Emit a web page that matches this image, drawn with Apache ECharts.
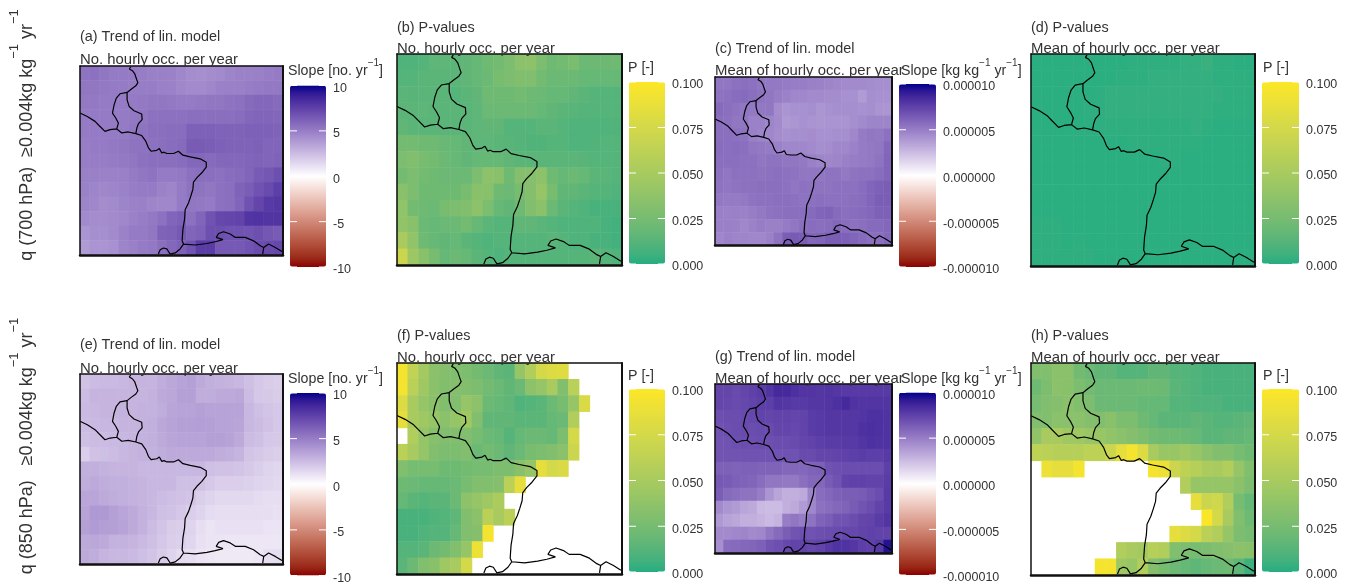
<!DOCTYPE html>
<html><head><meta charset="utf-8">
<style>html,body{margin:0;padding:0;background:#fff}#c{width:1350px;height:586px;filter:blur(0.65px)}</style>
<script src="https://cdn.jsdelivr.net/npm/echarts@6/dist/echarts.min.js"></script>
</head><body><div id="c"></div>
<script>
const n = null;
// (a) slope, no. yr-1, 700 hPa
const occTrend700 = [
[5.4,5.5,5.3,5.1,5.1,5.1,5.0,4.9,4.9,4.8,4.6,4.4,4.3,4.4,4.5,4.7,4.8,4.8,4.9,5.0,5.1],
[5.3,5.3,5.2,5.1,5.1,5.0,5.0,5.0,4.9,4.8,4.6,4.5,4.5,4.6,4.8,4.9,4.9,5.0,5.1,5.2,5.2],
[5.2,5.2,5.1,5.1,5.1,5.1,5.2,5.3,5.3,5.2,5.1,5.1,5.2,5.3,5.3,5.4,5.5,5.8,5.9,5.9,5.8],
[5.1,5.1,5.1,5.1,5.1,5.2,5.3,5.5,5.5,5.5,5.5,5.6,5.6,5.6,5.6,5.6,5.7,5.9,6.0,6.0,5.9],
[5.1,5.1,5.1,5.1,5.1,5.3,5.4,5.6,5.6,5.7,5.7,6.2,6.2,6.2,6.1,6.1,6.1,6.2,6.2,6.2,6.1],
[5.0,5.1,5.1,5.2,5.3,5.4,5.4,5.5,5.6,5.7,5.8,6.4,6.4,6.3,6.2,6.1,6.1,6.1,6.2,6.0,6.0],
[5.0,5.0,5.0,5.1,5.2,5.3,5.5,5.6,5.6,5.6,5.7,5.9,5.9,5.8,5.9,5.9,5.9,6.0,6.1,6.0,6.1],
[4.9,4.9,4.8,4.8,4.9,5.1,5.3,5.4,5.1,5.1,5.2,5.5,5.6,5.6,5.5,5.7,5.8,6.0,6.4,6.6,6.9],
[4.8,4.7,4.6,4.7,4.8,5.0,5.1,5.1,4.8,4.7,5.1,5.4,5.4,5.3,5.5,5.6,6.1,6.3,6.8,7.1,7.6],
[4.7,4.6,4.4,4.5,4.7,4.8,4.9,4.7,4.6,4.6,5.1,5.3,5.2,5.1,5.5,5.6,6.0,6.8,7.3,7.8,7.9],
[4.5,4.4,4.4,4.5,4.6,4.8,5.0,5.2,5.5,6.0,6.2,5.5,6.0,6.8,7.2,7.3,7.4,8.0,8.1,8.0,8.0],
[4.1,4.3,4.3,4.5,4.8,5.1,5.1,5.3,6.1,6.2,6.5,6.0,6.2,6.9,6.9,6.8,6.8,6.7,6.9,6.6,6.4],
[3.8,4.1,4.1,4.2,4.7,4.9,5.1,5.2,5.6,5.9,6.2,6.7,7.7,7.7,6.5,6.5,6.5,6.7,7.0,7.1,7.2]];
// (b) P-values
const occP700 = [
[.010,.010,.012,.015,.015,.014,.016,.018,.022,.024,.028,.035,.036,.028,.022,.024,.027,.020,.020,.021,.022],
[.012,.012,.014,.014,.014,.014,.016,.018,.020,.026,.028,.030,.030,.024,.020,.020,.020,.018,.018,.018,.018],
[.014,.013,.014,.014,.014,.012,.014,.016,.022,.022,.022,.024,.022,.020,.018,.018,.016,.014,.012,.012,.012],
[.014,.014,.015,.014,.014,.014,.014,.015,.020,.020,.020,.020,.020,.018,.016,.014,.013,.012,.012,.012,.012],
[.016,.014,.014,.014,.014,.014,.014,.015,.016,.016,.012,.012,.012,.014,.014,.012,.010,.010,.010,.010,.011],
[.024,.024,.022,.022,.019,.018,.016,.015,.015,.014,.013,.012,.011,.011,.012,.012,.010,.010,.011,.012,.012],
[.028,.030,.026,.024,.020,.018,.016,.018,.018,.018,.016,.014,.014,.014,.014,.014,.014,.013,.012,.012,.012],
[.024,.028,.024,.022,.020,.020,.020,.028,.036,.034,.022,.032,.033,.036,.022,.018,.020,.018,.014,.014,.012],
[.034,.028,.022,.022,.022,.022,.026,.034,.034,.022,.020,.026,.032,.040,.026,.016,.016,.014,.012,.012,.010],
[.038,.024,.022,.020,.026,.028,.030,.036,.028,.018,.016,.022,.030,.035,.020,.014,.012,.010,.008,.008,.008],
[.038,.034,.020,.018,.020,.020,.024,.018,.014,.012,.012,.016,.016,.014,.012,.010,.010,.010,.010,.008,.006],
[.050,.038,.022,.018,.016,.018,.014,.012,.010,.012,.012,.012,.012,.012,.014,.012,.010,.010,.008,.008,.006],
[.070,.044,.034,.026,.018,.020,.018,.014,.012,.010,.012,.012,.012,.012,.012,.012,.012,.012,.014,.012,.010]];
// (c) slope, 1e-6 kg kg-1 yr-1, 700 hPa
const meanTrend700 = [
[5.3,5.3,5.5,5.6,5.5,5.3,5.2,5.2,5.1,5.0,5.0,4.9,4.8,4.7,4.6,4.5,4.5,4.5,4.4,4.3,4.3],
[5.4,5.5,5.7,5.8,5.6,5.4,5.3,5.0,4.8,4.6,4.6,4.5,4.5,4.4,4.4,4.2,4.2,3.8,4.3,4.2,4.2],
[5.8,5.6,5.4,5.3,5.2,5.2,5.3,4.4,4.1,4.2,4.2,4.3,4.0,4.2,4.3,4.3,4.3,4.2,4.3,4.1,4.0],
[5.6,5.5,5.3,5.3,4.8,4.8,4.7,4.5,3.9,4.0,4.2,4.1,4.0,4.1,4.1,4.1,4.3,4.5,4.7,4.7,4.7],
[5.6,5.6,5.5,5.4,4.9,4.7,4.6,4.4,4.2,4.3,4.3,4.4,4.2,4.2,4.3,4.3,4.6,5.1,5.3,5.2,5.5],
[5.7,5.6,5.7,5.6,5.3,5.2,5.1,4.8,4.6,4.6,4.6,4.5,4.3,4.4,4.6,4.6,4.8,5.1,5.2,5.3,5.9],
[5.6,5.6,5.6,5.5,5.5,5.3,5.4,5.4,5.3,5.3,5.2,4.9,4.7,4.6,4.7,4.9,5.0,5.1,5.2,5.4,6.0],
[5.5,5.3,5.5,5.5,5.5,5.4,5.5,5.6,5.5,5.4,5.3,5.3,5.3,5.4,5.4,5.2,5.4,5.5,5.5,5.7,6.0],
[5.4,5.3,5.4,5.5,5.5,5.6,5.6,5.6,5.5,5.3,5.5,5.4,5.4,5.4,5.5,5.5,5.5,5.7,6.0,6.2,6.3],
[5.2,5.1,5.1,5.2,5.4,5.5,5.5,5.6,5.6,5.5,5.4,5.5,5.6,5.5,5.5,5.5,5.6,5.7,6.0,6.3,6.3],
[4.9,4.8,4.9,4.8,5.0,5.2,5.4,5.5,5.6,5.6,5.6,5.8,6.0,6.1,5.8,5.6,5.7,5.8,5.9,6.2,6.2],
[4.9,4.9,4.8,4.6,4.8,5.0,4.9,4.9,5.1,5.3,5.6,5.7,5.6,5.7,5.9,5.7,5.5,5.6,5.8,5.8,5.9],
[4.6,4.8,4.7,4.7,4.6,4.6,4.8,5.4,6.3,6.4,6.3,5.9,6.0,6.3,6.3,6.2,6.0,5.8,5.6,5.6,5.9]];
// (d) P-values
const meanP700 = [
[.001,.001,.001,.001,.001,.001,.001,.001,.001,.002,.002,.002,.002,.002,.003,.003,.004,.002,.002,.001,.001],
[.001,.001,.001,.001,.001,.001,.001,.001,.002,.002,.002,.003,.003,.003,.003,.003,.003,.002,.002,.002,.002],
[.001,.001,.001,.001,.001,.001,.002,.003,.003,.003,.003,.003,.003,.003,.003,.003,.003,.003,.002,.002,.002],
[.001,.001,.001,.001,.001,.002,.002,.003,.003,.003,.003,.003,.003,.003,.003,.003,.003,.002,.002,.002,.002],
[.001,.001,.001,.001,.001,.001,.002,.002,.002,.002,.002,.002,.002,.002,.002,.003,.002,.001,.001,.001,.001],
[.001,.001,.001,.001,.001,.001,.001,.001,.001,.002,.002,.002,.002,.002,.002,.002,.001,.001,.001,.001,.001],
[.001,.001,.001,.001,.001,.001,.001,.001,.001,.001,.001,.001,.002,.002,.001,.001,.001,.001,.001,.001,.001],
[.001,.001,.001,.001,.001,.001,.001,.001,.001,.001,.001,.001,.001,.001,.001,.001,.001,.001,.001,.001,.001],
[.001,.001,.001,.001,.001,.001,.001,.001,.001,.001,.001,.001,.001,.001,.001,.001,.001,.001,.001,.001,.001],
[.001,.001,.001,.001,.001,.001,.001,.001,.001,.001,.001,.001,.001,.001,.001,.001,.001,.001,.001,.001,.001],
[.002,.002,.002,.001,.001,.001,.001,.001,.001,.001,.001,.001,.001,.001,.001,.001,.001,.001,.001,.001,.001],
[.002,.002,.002,.001,.002,.001,.001,.001,.001,.001,.001,.001,.001,.001,.001,.001,.001,.001,.001,.001,.001],
[.002,.002,.002,.002,.002,.002,.001,.001,.001,.001,.001,.001,.001,.001,.001,.001,.001,.001,.001,.001,.001]];
// (e) slope, no. yr-1, 850 hPa
const occTrend850 = [
[2.3,2.5,2.6,2.6,2.7,2.8,2.8,2.8,3.1,3.3,3.5,3.6,3.2,3.0,2.9,2.8,2.7,2.4,2.1,1.9,1.8],
[2.5,2.8,2.8,2.8,2.8,2.8,2.8,2.9,3.2,3.3,3.6,3.6,3.1,3.1,3.2,3.2,3.3,2.5,2.1,2.0,1.9],
[2.6,2.7,2.8,2.8,2.9,2.8,2.9,2.9,3.1,3.4,3.5,3.5,3.6,3.5,3.5,3.5,3.5,2.7,2.4,2.2,2.1],
[2.5,2.6,2.7,2.7,2.8,2.8,2.9,3.0,3.3,3.5,3.6,3.6,3.7,3.6,3.5,3.5,3.4,2.7,2.5,2.3,2.1],
[2.4,2.5,2.5,2.6,2.7,2.8,2.9,3.0,3.2,3.4,3.5,3.5,3.5,3.6,3.6,3.5,3.2,2.5,2.4,2.1,2.0],
[1.8,2.3,2.4,2.5,2.7,2.8,2.9,2.9,3.1,3.2,3.2,3.2,3.2,3.2,3.1,3.0,2.8,2.2,2.1,1.9,1.8],
[3.0,3.0,2.9,2.8,2.8,2.8,2.7,2.7,2.7,2.7,2.7,2.7,2.7,2.4,2.3,2.3,2.2,2.0,1.8,1.6,1.5],
[3.1,3.2,3.1,3.0,3.0,2.9,2.8,2.7,2.7,2.7,2.4,2.4,2.3,2.0,1.8,1.8,1.8,1.7,1.6,1.5,1.4],
[3.4,3.4,3.2,3.1,3.0,2.9,2.8,2.7,2.5,2.4,2.3,2.2,1.8,1.6,1.4,1.4,1.4,1.4,1.3,1.2,1.2],
[3.5,3.9,3.9,3.6,3.4,3.2,2.9,2.7,2.4,2.3,2.1,1.8,1.6,1.3,1.2,1.2,1.2,1.2,1.2,1.2,1.1],
[3.6,3.8,3.7,3.6,3.5,3.2,2.9,2.5,2.2,1.9,1.8,1.6,1.2,1.0,1.1,1.1,1.1,1.1,1.1,1.0,1.0],
[3.2,3.3,3.2,2.9,2.9,2.8,2.6,2.4,2.1,1.8,1.7,1.5,1.1,1.0,1.0,0.9,0.9,0.9,0.9,0.9,0.9],
[3.2,3.1,2.8,2.7,2.7,2.6,2.4,2.2,1.9,1.6,1.3,1.2,1.0,0.9,0.8,0.8,0.8,0.8,0.9,1.2,1.3]];
// (f) P-values, blank above 0.1
const occP850 = [
[.095,.065,.048,.035,.032,.030,.028,.024,.020,.016,.014,.040,.055,.075,.080,.082,n,n,n,n,n],
[.095,.060,.045,.035,.030,.032,.030,.028,.024,.020,.016,.020,.036,.040,.050,.030,.060,n,n,n,n],
[.080,.050,.040,.035,.030,.030,.040,.036,.020,.018,.016,.010,.012,.014,.020,.026,.040,.078,n,n,n],
[.085,.050,.045,.040,.035,.040,.045,.030,.016,.016,.016,.014,.014,.014,.018,.020,.055,n,n,n,n],
[n,.055,.040,.033,.030,.030,.030,.025,.020,.018,.012,.018,.020,.020,.018,.028,.075,n,n,n,n],
[.060,.050,.040,.030,.028,.028,.030,.020,.024,.020,.016,.020,.026,.028,.030,.035,.070,n,n,n,n],
[.030,.025,.025,.025,.022,.022,.024,.025,.025,.028,.028,.034,.040,.085,.075,.078,n,n,n,n,n],
[.022,.020,.018,.018,.018,.020,.025,.030,.030,.032,.060,.085,n,n,n,n,n,n,n,n,n],
[.018,.014,.012,.014,.014,.020,.036,.040,.045,.052,n,n,n,n,n,n,n,n,n,n,n],
[.008,.008,.008,.010,.012,.015,.030,.035,.060,.050,.060,n,n,n,n,n,n,n,n,n,n],
[.008,.008,.010,.012,.012,.018,.030,.032,.095,n,n,n,n,n,n,n,n,n,n,n,n],
[.012,.012,.014,.020,.024,.030,.040,.090,n,n,n,n,n,n,n,n,n,n,n,n,n],
[.014,.020,.030,.034,.045,.050,.075,n,n,n,n,n,n,n,n,n,n,n,n,n,n]];
// (g) slope, 1e-6 kg kg-1 yr-1, 850 hPa
const meanTrend850 = [
[7.3,7.3,7.1,7.3,7.5,7.7,8.0,8.5,8.5,8.2,8.0,8.0,7.9,8.0,7.9,7.8,7.8,7.8,7.8,7.8,7.8],
[7.3,7.2,7.1,7.2,7.4,7.6,7.6,8.0,7.9,7.8,7.8,7.9,7.9,8.0,8.2,8.5,8.1,8.0,8.0,8.0,8.0],
[6.9,7.0,7.0,7.1,7.2,7.4,7.3,7.4,7.4,7.3,7.4,7.7,7.8,7.9,7.9,7.9,7.9,8.0,8.2,8.2,8.1],
[6.8,6.9,7.0,7.1,7.0,7.1,7.1,7.3,7.3,7.2,7.4,7.7,7.8,7.9,7.9,7.9,7.9,8.2,8.3,8.2,8.1],
[6.7,6.8,6.9,7.0,6.9,7.0,6.9,7.0,7.0,7.1,7.3,7.4,7.6,7.7,7.7,7.8,7.8,8.0,8.2,8.1,8.1],
[6.7,6.7,6.7,6.8,6.8,6.8,6.8,6.8,6.8,6.8,7.1,7.1,7.3,7.3,7.4,7.5,7.6,7.7,7.6,7.6,7.8],
[6.2,6.2,6.1,6.2,6.2,6.1,6.1,6.1,5.9,5.9,5.9,6.1,6.2,6.8,6.9,7.0,7.0,7.0,7.0,7.0,7.6],
[6.5,6.4,6.2,6.1,6.0,5.7,5.3,5.3,5.2,5.2,5.6,5.9,5.9,6.4,6.8,7.4,7.5,7.5,7.4,7.4,7.7],
[6.3,5.8,5.6,5.4,5.4,5.0,4.0,3.4,3.0,3.0,3.2,4.7,5.7,5.9,6.2,6.3,6.3,6.4,6.7,7.0,7.8],
[4.5,4.0,3.8,3.4,3.2,2.6,2.5,2.5,3.0,3.2,3.8,4.6,5.5,5.7,5.9,6.1,6.4,6.7,7.0,7.4,7.8],
[3.9,3.5,3.3,3.0,3.0,2.8,2.6,2.8,5.0,5.3,5.0,5.4,6.1,6.3,6.7,6.8,7.0,7.3,7.4,7.7,8.0],
[4.5,4.5,4.6,4.7,4.5,4.6,5.3,5.8,6.3,6.7,6.9,6.8,6.9,7.0,7.1,7.2,7.2,7.4,7.5,7.4,7.4],
[4.3,5.7,5.8,5.9,6.0,6.2,6.7,6.9,7.2,7.4,7.4,7.2,7.4,7.8,8.1,8.1,7.9,7.6,7.5,7.8,9.4]];
// (h) P-values, blank above 0.1
const meanP850 = [
[.030,.030,.035,.035,.024,.020,.016,.016,.012,.012,.012,.016,.016,.012,.012,.010,.008,.008,.008,.008,.008],
[.022,.028,.035,.034,.028,.024,.020,.020,.020,.020,.022,.022,.020,.014,.012,.010,.008,.008,.008,.008,.008],
[.025,.030,.032,.035,.030,.028,.020,.020,.020,.020,.018,.018,.018,.012,.012,.010,.010,.010,.008,.008,.008],
[.030,.030,.035,.035,.035,.032,.030,.034,.028,.028,.022,.018,.014,.014,.014,.016,.014,.012,.012,.014,.016],
[.038,.050,.050,.045,.045,.042,.042,.038,.035,.032,.028,.024,.022,.022,.020,.018,.014,.014,.016,.016,.018],
[.062,.060,.058,.058,.058,.062,.062,.070,.085,.095,.080,.050,.042,.042,.045,.040,.035,.030,.030,.025,.022],
[n,.090,.085,.085,.095,n,n,n,n,n,n,.095,.090,.070,.062,.058,.052,.050,.055,.040,.030],
[n,n,n,n,n,n,n,n,n,n,n,n,n,n,.055,.040,.040,.040,.040,.035,.028],
[n,n,n,n,n,n,n,n,n,n,n,n,n,n,n,.085,.070,.072,.055,.025,.018],
[n,n,n,n,n,n,n,n,n,n,n,n,n,n,n,n,.098,.075,.050,.030,.022],
[n,n,n,n,n,n,n,n,n,n,n,n,n,.085,.080,.075,.060,.055,.040,.028,.025],
[n,n,n,n,n,n,n,n,.055,.050,.048,.058,.055,.030,.028,.025,.028,.030,.033,.035,.034],
[n,n,n,n,n,n,.095,.095,.045,.042,.055,.032,.025,.020,.018,.015,.018,.020,.022,.015,.005]];

// Borders in map units (0-100 across and up each panel); null breaks the line.
const borderX = [25.0,24.3,25.8,27.0,28.0,28.5,27.5,25.2,23.2,23.2,24.2,26.6,30.4,30.6,28.8,28.0,27.5,n,
 23.2,19.7,17.9,16.8,16.0,17.6,18.9,18.1,n,
 0,3.6,7.4,9.5,12.3,14.8,18.1,20.6,23.8,27.5,30.4,32.4,33.7,35.0,37.8,39.1,40.3,41.4,42.8,46.1,48.5,50.7,54.3,59.2,62.2,62.2,60.0,57.6,55.9,55.6,54.6,53.5,51.8,51.5,50.7,50.3,51.0,
 56.7,62.5,66.6,70.4,67.1,68.3,70.7,74.0,76.5,81.4,85.5,88.8,90.5,92.9,96.2,99.5,n,
 90.5,90.0,n,
 51.0,49.3,46.9,44.4,42.8,41.1,39.5,38.6];
const borderY = [99.6,98.4,97.5,95.8,92.6,91.2,89.5,87.7,86.0,82.1,78.6,76.3,74.6,71.6,69.5,67.2,64.2,n,
 86.0,85.3,83.0,79.5,75.1,72.5,69.8,66.7,n,
 75.1,73.3,70.7,68.4,65.4,66.3,66.7,64.6,65.1,64.2,63.2,60.2,56.7,54.9,55.4,56.3,54.0,54.4,53.7,53.7,54.9,52.8,51.9,50.9,49.1,46.5,43.5,40.9,38.6,34.7,31.2,27.7,23.9,18.9,13.7,7.5,5.8,
 5.3,6.1,7.0,8.1,9.3,11.4,12.3,11.1,9.3,9.3,7.5,4.9,4.0,5.8,4.0,1.8,n,
 4.0,0.5,n,
 5.8,3.2,1.1,0.5,3.2,3.7,2.8,0.5];

const columns = Array.from({length:21},(_,i)=>i);
const rows = Array.from({length:13},(_,i)=>i);
const occTicks = {min:-10,max:10,step:5,digits:0,values:[-10,-5,0,5,10]};
const meanTicks = {min:-10,max:10,step:5,digits:6,scale:1e-6,values:[-10,-5,0,5,10]};
const pTicks = {min:0,max:0.1,step:0.025,digits:3,values:[0,.025,.05,.075,.1]};

// Lab interpolation, as the original gradient scales use
function toLab(h){const c=[1,3,5].map(i=>parseInt(h.substr(i,2),16)/255).map(v=>v<=.04045?v/12.92:Math.pow((v+.055)/1.055,2.4));
 const X=(.4124*c[0]+.3576*c[1]+.1805*c[2])/.95047,Y=.2126*c[0]+.7152*c[1]+.0722*c[2],Z=(.0193*c[0]+.1192*c[1]+.9505*c[2])/1.08883;
 const f=t=>t>.008856?Math.cbrt(t):7.787*t+16/116;return [116*f(Y)-16,500*(f(X)-f(Y)),200*(f(Y)-f(Z))];}
function fromLab(l){const y=(l[0]+16)/116,x=l[1]/500+y,z=y-l[2]/200,g=t=>t*t*t>.008856?t*t*t:(t-16/116)/7.787;
 const X=g(x)*.95047,Y=g(y),Z=g(z)*1.08883;
 const r=[3.2406*X-1.5372*Y-.4986*Z,-.9689*X+1.8758*Y+.0415*Z,.0557*X-.204*Y+1.057*Z];
 return '#'+r.map(v=>{v=Math.max(0,Math.min(1,v));v=v<=.0031308?12.92*v:1.055*Math.pow(v,1/2.4)-.055;return Math.round(v*255).toString(16).padStart(2,'0');}).join('');}
function ramp(a,b,k){const A=toLab(a),B=toLab(b),o=[];for(let i=0;i<=k;i++)o.push(fromLab(A.map((v,j)=>v+(B[j]-v)*i/k)));return o;}
const divergent = ramp('#8b0000','#ffffff',12).concat(ramp('#ffffff','#00008b',12).slice(1));
const sequential = ramp('#26ad81','#fde725',16);

const ink='#333';
const slopeNo='{m|Slope [no. yr}{s|−1}{m|]}', slopeKg='{m|Slope [kg kg}{s|−1}{m| yr}{s|−1}{m|]}', pLab='{m|P [-]}';
const panels=[
 {t:'(a) Trend of lin. model',u:'No. hourly occ. per year',v:occTrend700,x0:80,x1:283,y0:66,y1:255,ty:36,uy:59,bx:290,bw:36,by0:85.5,by1:267,lt:slopeNo,lx:288,ly:70,tk:occTicks,cm:divergent},
 {t:'(b) P-values',u:'No. hourly occ. per year',v:occP700,x0:397,x1:622,y0:54,y1:265,ty:27,uy:48,bx:629,bw:36,by0:82,by1:264,lt:pLab,lx:628,ly:67,tk:pTicks,cm:sequential},
 {t:'(c) Trend of lin. model',u:'Mean of hourly occ. per year',v:meanTrend700,x0:715,x1:892,y0:77,y1:245.5,ty:48,uy:70,bx:899,bw:37,by0:84,by1:267,lt:slopeKg,lx:901,ly:70,tk:meanTicks,cm:divergent},
 {t:'(d) P-values',u:'Mean of hourly occ. per year',v:meanP700,x0:1031,x1:1255,y0:54,y1:266,ty:27,uy:48,bx:1262,bw:37,by0:82,by1:264,lt:pLab,lx:1263,ly:67,tk:pTicks,cm:sequential},
 {t:'(e) Trend of lin. model',u:'No. hourly occ. per year',v:occTrend850,x0:80,x1:283,y0:374,y1:564,ty:344,uy:368,bx:290,bw:36,by0:393,by1:575.5,lt:slopeNo,lx:288,ly:378,tk:occTicks,cm:divergent},
 {t:'(f) P-values',u:'No. hourly occ. per year',v:occP850,x0:397,x1:622,y0:363,y1:574,ty:335,uy:357,bx:629,bw:36,by0:389,by1:572,lt:pLab,lx:628,ly:375,tk:pTicks,cm:sequential},
 {t:'(g) Trend of lin. model',u:'Mean of hourly occ. per year',v:meanTrend850,x0:715,x1:892,y0:384,y1:553,ty:356,uy:378,bx:899,bw:37,by0:392.5,by1:575,lt:slopeKg,lx:901,ly:378,tk:meanTicks,cm:divergent},
 {t:'(h) P-values',u:'Mean of hourly occ. per year',v:meanP850,x0:1031,x1:1255,y0:363,y1:575,ty:335,uy:357,bx:1262,bw:37,by0:389,by1:572,lt:pLab,lx:1263,ly:375,tk:pTicks,cm:sequential}
];
const rich={m:{fontSize:14.2,color:ink,fontFamily:'Liberation Sans',lineHeight:20,verticalAlign:'bottom'},s:{fontSize:10,color:ink,fontFamily:'Liberation Sans',lineHeight:20,verticalAlign:'top'}};
const opt={animation:false,backgroundColor:'#fff',title:[],grid:[],xAxis:[],yAxis:[],series:[],visualMap:[],graphic:[]};
const hidden={axisTick:{show:false},axisLabel:{show:false},splitLine:{show:false}};
const edge=w=>({show:true,onZero:false,lineStyle:{color:'#111',width:w}});
panels.forEach(p=>{
 const txt=(s,left,top,size)=>opt.title.push({text:s,left:left,top:top,padding:0,textStyle:{fontSize:size,fontWeight:'normal',color:ink,fontFamily:'Liberation Sans',lineHeight:20,rich:rich}});
 txt(p.t,p.x0,p.ty-9,14.4);txt(p.u,p.x0,p.uy-9,14.9);txt(p.lt,p.lx,p.ly-12,14.2);
 const g=opt.grid.length;
 opt.grid.push({left:p.x0,top:p.y0,width:p.x1-p.x0,height:p.y1-p.y0});
 const xa=opt.xAxis.length,ya=opt.yAxis.length;
 opt.xAxis.push({gridIndex:g,type:'category',data:columns,position:'bottom',z:6,axisLine:edge(2.5),...hidden},
                {gridIndex:g,type:'value',min:0,max:100,position:'top',z:6,axisLine:edge(1.5),...hidden});
 opt.yAxis.push({gridIndex:g,type:'category',data:rows,inverse:true,position:'left',z:6,axisLine:edge(1.5),...hidden},
                {gridIndex:g,type:'value',min:0,max:100,position:'right',z:6,axisLine:edge(2),...hidden});
 const cells=[];p.v.forEach((row,r)=>row.forEach((val,c)=>{if(val!==null)cells.push([c,r,val]);}));
 const si=opt.series.length;
 opt.series.push({type:'heatmap',xAxisIndex:xa,yAxisIndex:ya,data:cells,silent:true,progressive:0});
 opt.series.push({type:'line',xAxisIndex:xa+1,yAxisIndex:ya+1,data:borderX.map((x,i)=>x===null?['-','-']:[x,borderY[i]]),showSymbol:false,silent:true,z:4,connectNulls:false,lineStyle:{color:'#000',width:1.2}});
 opt.visualMap.push({type:'continuous',seriesIndex:si,dimension:2,min:p.tk.min,max:p.tk.max,inRange:{color:p.cm},left:p.bx,top:p.by0,itemWidth:p.bw,itemHeight:p.by1-p.by0,padding:0,calculable:false,hoverLink:false,realtime:false,z:4});
 // colour-bar scale with white tick marks on both edges
 const gb=opt.grid.length;
 opt.grid.push({left:p.bx,top:p.by0,width:p.bw,height:p.by1-p.by0});
 const xb=opt.xAxis.length,yb=opt.yAxis.length;
 opt.xAxis.push({gridIndex:gb,type:'value',min:0,max:1,show:false});
 opt.yAxis.push({gridIndex:gb,type:'value',min:p.tk.min,max:p.tk.max,interval:p.tk.step,z:8,position:'right',splitLine:{show:false},axisLine:{show:false},axisTick:{show:false},
   axisLabel:{show:true,margin:7,formatter:v=>'{a|'+(v*(p.tk.scale||1)).toFixed(p.tk.digits)+'}',
     rich:{a:{color:ink,fontSize:12.5,fontFamily:'Liberation Sans',padding:[6,0,0,0]}}}});
 opt.series.push({type:'custom',xAxisIndex:xb,yAxisIndex:yb,silent:true,z:10,clip:false,data:p.tk.values.map(v=>[0,v]),
   renderItem:(params,api)=>{const a=api.coord([0,api.value(1)]),b=api.coord([1,api.value(1)]);const st={stroke:'#fff',lineWidth:1};
     return {type:'group',children:[{type:'line',shape:{x1:a[0],y1:a[1],x2:a[0]+7,y2:a[1]},style:st},{type:'line',shape:{x1:b[0]-7,y1:b[1],x2:b[0],y2:b[1]},style:st}]};}});
});
[['q (700 hPa)  ≥0.004kg kg',135],['q (850 hPa)   ≥0.004kg kg',446]].forEach(a=>{
 opt.graphic.push({type:'text',x:22,y:a[1],rotation:Math.PI/2,silent:true,style:{
  text:'{m|'+a[0]+'}{s|−1}{m| yr}{s|−1}',align:'center',verticalAlign:'middle',
  rich:{m:{fontSize:18,fill:ink,fontFamily:'Liberation Sans',lineHeight:28,verticalAlign:'bottom'},s:{fontSize:13,fill:ink,fontFamily:'Liberation Sans',lineHeight:28,verticalAlign:'top'}}}});
});
echarts.init(document.getElementById('c')).setOption(opt);
</script></body></html>
